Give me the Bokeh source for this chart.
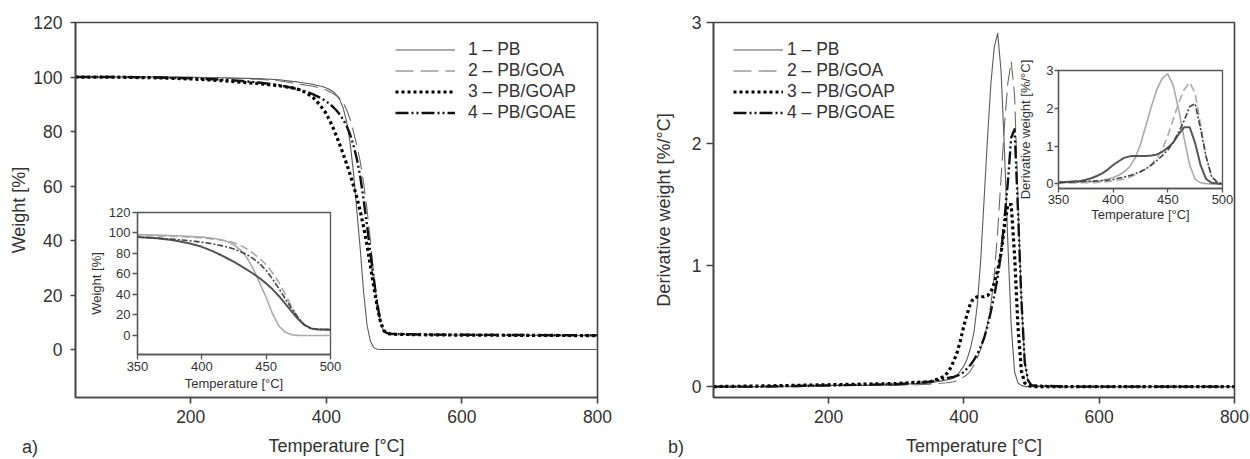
from bokeh.plotting import figure
from bokeh.models import Range1d, FixedTicker, Legend, LegendItem, GridBox, Div
from bokeh.embed import file_html
from bokeh.resources import INLINE

# ---------------- data ----------------
T = [30, 100, 150, 200, 250, 300, 330,
     350, 355, 360, 365, 370, 375, 380, 385, 390, 395,
     400, 405, 410, 415, 420, 425, 430, 435, 440, 445,
     450, 455, 460, 465, 470, 475, 480, 485, 490, 495,
     500, 550, 600, 700, 800]

labels = ["1 \u2013 PB", "2 \u2013 PB/GOA", "3 \u2013 PB/GOAP", "4 \u2013 PB/GOAE"]

# weight [%]
w_pb = [100, 100, 100, 99.9, 99.7, 99.4, 99.0,
        98.4, 98.3, 98.1, 97.9, 97.7, 97.5, 97.3, 97.0, 96.7, 96.4,
        96.0, 95.4, 94.6, 93.4, 91.6, 88.5, 83.5, 76.0, 65.0, 51.0,
        37.0, 21.0, 9.0, 3.0, 0.7, 0.1, 0, 0, 0, 0,
        0, 0, 0, 0, 0]
w_goa = [100, 100, 100, 99.9, 99.6, 99.2, 98.6,
         97.8, 97.6, 97.4, 97.2, 97.0, 96.8, 96.6, 96.3, 96.0, 95.6,
         95.2, 94.6, 93.9, 93.1, 92.2, 90.5, 88.0, 84.5, 80.0, 75.0,
         69.0, 61.0, 51.5, 40.0, 27.5, 16.5, 9.5, 6.6, 5.9, 5.7,
         5.6, 5.4, 5.3, 5.2, 5.1]
w_goap = [100, 99.9, 99.7, 99.3, 98.6, 97.6, 96.8,
          96.0, 95.7, 95.3, 94.8, 94.2, 93.4, 92.5, 91.3, 89.9, 88.3,
          86.5, 84.0, 81.3, 78.3, 75.1, 71.7, 68.1, 64.3, 60.2, 55.8,
          50.8, 45.0, 38.3, 30.8, 23.0, 15.8, 10.0, 6.9, 5.9, 5.7,
          5.6, 5.4, 5.3, 5.2, 5.1]
w_goae = [100, 100, 99.8, 99.5, 99.0, 98.0, 97.0,
          96.0, 95.7, 95.4, 95.0, 94.6, 94.2, 93.7, 93.1, 92.5, 91.8,
          91.0, 90.1, 89.0, 87.7, 86.2, 84.3, 82.0, 79.0, 75.0, 70.0,
          63.5, 55.0, 45.5, 35.5, 26.0, 17.0, 10.0, 6.7, 6.0, 5.8,
          5.7, 5.5, 5.4, 5.3, 5.2]

# derivative weight [%/°C]
d_pb = [0, 0, 0.005, 0.01, 0.01, 0.015, 0.025,
        0.03, 0.035, 0.04, 0.045, 0.05, 0.055, 0.06, 0.07, 0.09, 0.13,
        0.17, 0.23, 0.32, 0.45, 0.68, 1.05, 1.55, 2.05, 2.5, 2.8,
        2.91, 2.6, 1.95, 1.19, 0.5, 0.12, 0.03, 0.01, 0, 0,
        0, 0, 0, 0, 0]
d_goa = [0, 0, 0, 0.005, 0.01, 0.01, 0.015,
         0.02, 0.022, 0.025, 0.027, 0.03, 0.032, 0.035, 0.04, 0.05, 0.06,
         0.08, 0.1, 0.13, 0.18, 0.24, 0.31, 0.4, 0.52, 0.68, 0.92,
         1.28, 1.72, 2.15, 2.5, 2.68, 2.4, 1.55, 0.72, 0.2, 0.04,
         0.01, 0, 0, 0, 0]
d_goap = [0, 0.005, 0.01, 0.015, 0.02, 0.025, 0.035,
          0.04, 0.05, 0.06, 0.07, 0.08, 0.11, 0.15, 0.21, 0.28, 0.38,
          0.5, 0.6, 0.69, 0.73, 0.74, 0.74, 0.74, 0.75, 0.78, 0.85,
          0.96, 1.1, 1.32, 1.5, 1.5, 1.08, 0.49, 0.13, 0.03, 0.01,
          0, 0, 0, 0, 0]
d_goae = [0, 0, 0.005, 0.01, 0.015, 0.02, 0.03,
          0.04, 0.045, 0.05, 0.055, 0.06, 0.07, 0.075, 0.08, 0.09, 0.1,
          0.12, 0.15, 0.18, 0.22, 0.27, 0.33, 0.4, 0.5, 0.62, 0.75,
          0.9, 1.1, 1.38, 1.68, 2.05, 2.12, 1.45, 0.72, 0.2, 0.05,
          0.01, 0, 0, 0, 0]

x_ticks_main = [200, 400, 600, 800]
y_ticks_w = [0, 20, 40, 60, 80, 100, 120]
y_ticks_d = [0, 1, 2, 3]
x_ticks_inset = [350, 400, 450, 500]

# ---------------- styles ----------------
FONT = "Liberation Sans"
TXT = "#333333"
AX = "#444444"

main_styles = [
    dict(line_color="#5a5a5a", line_width=1.1),
    dict(line_color="#6a6a6a", line_width=1.1, line_dash="18 7"),
    dict(line_color="#000000", line_width=3.2, line_dash="3 3"),
    dict(line_color="#111111", line_width=2.4, line_dash="13 3 2 3 2 3"),
]
inset_styles = [
    dict(line_color="#aaaaaa", line_width=1.6),
    dict(line_color="#aaaaaa", line_width=1.6, line_dash="8 4"),
    dict(line_color="#555555", line_width=2.0),
    dict(line_color="#444444", line_width=1.6, line_dash="6 2 2 2"),
]


def style(p, tick_fs, lab_fs, tick_out, lw, outline_color=AX):
    p.grid.visible = False
    p.outline_line_color = outline_color
    p.outline_line_width = lw
    p.outline_line_alpha = 1
    for ax in p.axis:
        ax.axis_line_color = outline_color
        ax.axis_line_width = lw
        ax.major_tick_line_color = outline_color
        ax.major_tick_line_width = lw
        ax.major_tick_out = tick_out
        ax.major_tick_in = 0
        ax.minor_tick_line_color = None
        ax.major_label_text_font = FONT
        ax.major_label_text_font_size = tick_fs
        ax.major_label_text_color = TXT
        ax.axis_label_text_font = FONT
        ax.axis_label_text_font_size = lab_fs
        ax.axis_label_text_color = TXT
        ax.axis_label_text_font_style = "normal"


def make_main(width, mb_left, mb_right, y_range, y_ticks, ylab, y_lab_standoff,
              y_tick_out, y_label_standoff, series, legend_x, glyph_w, lab_off):
    p = figure(width=width, height=459, x_range=Range1d(30, 800), y_range=y_range,
               min_border_left=mb_left, min_border_right=mb_right,
               min_border_top=22, min_border_bottom=62,
               output_backend="svg", toolbar_location=None,
               background_fill_color="white", border_fill_color="white")
    style(p, "17.5px", "18px", 6, 1.6)
    p.xaxis.ticker = FixedTicker(ticks=x_ticks_main)
    p.yaxis.ticker = FixedTicker(ticks=y_ticks)
    p.xaxis.axis_label = "Temperature [\u00b0C]"
    p.yaxis.axis_label = ylab
    p.xaxis.major_label_standoff = 6
    p.xaxis.axis_label_standoff = 10
    p.yaxis.major_tick_out = y_tick_out
    p.yaxis.major_label_standoff = y_label_standoff
    p.yaxis.axis_label_standoff = y_lab_standoff
    items = []
    for ys, st, lab in zip(series, main_styles, labels):
        r = p.line(T, ys, line_join="round", **st)
        items.append(LegendItem(label=lab, renderers=[r]))
    leg = Legend(items=items, location=(legend_x, 274), padding=0, margin=0,
                 spacing=0, glyph_width=glyph_w, glyph_height=17, label_height=17,
                 label_standoff=lab_off, border_line_color=None, background_fill_alpha=0,
                 label_text_font=FONT, label_text_font_size="17.5px", label_text_color=TXT)
    p.add_layout(leg)
    return p


def make_inset(width, height, mb, y_range, y_ticks, ylab, series,
               x_std, x_lab_std, y_std, y_lab_std, tick_out):
    p = figure(width=width, height=height, x_range=Range1d(350, 500), y_range=y_range,
               min_border_left=mb[0], min_border_right=mb[1],
               min_border_top=mb[2], min_border_bottom=mb[3],
               output_backend="svg", toolbar_location=None,
               background_fill_color="white", border_fill_color=None)
    style(p, "13px", "13px", tick_out, 1.3, outline_color="#555555")
    p.xaxis.ticker = FixedTicker(ticks=x_ticks_inset)
    p.yaxis.ticker = FixedTicker(ticks=y_ticks)
    p.xaxis.axis_label = "Temperature [\u00b0C]"
    p.yaxis.axis_label = ylab
    p.xaxis.major_label_standoff = x_std
    p.xaxis.axis_label_standoff = x_lab_std
    p.yaxis.major_label_standoff = y_std
    p.yaxis.axis_label_standoff = y_lab_std
    for ys, st in zip(series, inset_styles):
        p.line(T, ys, line_join="round", **st)
    return p


p_left = make_main(620, 75, 23, Range1d(-17.6, 120), y_ticks_w, "Weight [%]", 1,
                   5, 8, [w_pb, w_goa, w_goap, w_goae], 320, 60, 13)
p_right = make_main(630, 93, 16, Range1d(-0.09, 3), y_ticks_d, "Derivative weight [%/\u00b0C]", 15,
                    7, 5, [d_pb, d_goa, d_goap, d_goae], 20, 50, 4)

in_left = make_inset(260, 195, (50, 15, 12, 41), Range1d(-18.6, 120), y_ticks_w, "Weight [%]",
                     [w_pb, w_goa, w_goap, w_goae], 2, 2, 2, 2, 5)
in_right = make_inset(225, 175, (42, 18, 15, 42), Range1d(-0.12, 3), y_ticks_d,
                      "Derivative weight [%/\u00b0C]",
                      [d_pb, d_goa, d_goap, d_goae], 2, 0, 1, 10, 4)


def tag(text, width, left):
    html = ('<div style="margin-left:%dpx;margin-top:37px;font-family:\'Liberation Sans\';'
            'font-size:18px;line-height:20px;color:#333333;">%s</div>' % (left, text))
    return Div(text=html, width=width, height=64)


tag_a = tag("a)", 85, 17)
tag_b = tag("b)", 395, 43)

grid = GridBox(children=[(p_left, 0, 0, 5, 3), (p_right, 0, 3, 5, 3),
                         (in_left, 2, 1, 2, 1), (in_right, 1, 4, 2, 1),
                         (tag_a, 4, 0, 1, 1), (tag_b, 4, 3, 1, 1)],
               rows=["55px", "145px", "30px", "165px", "64px"],
               cols=["85px", "260px", "275px", "395px", "225px", "10px"],
               spacing=0)

open("out.html", "w").write(file_html(grid, INLINE))
